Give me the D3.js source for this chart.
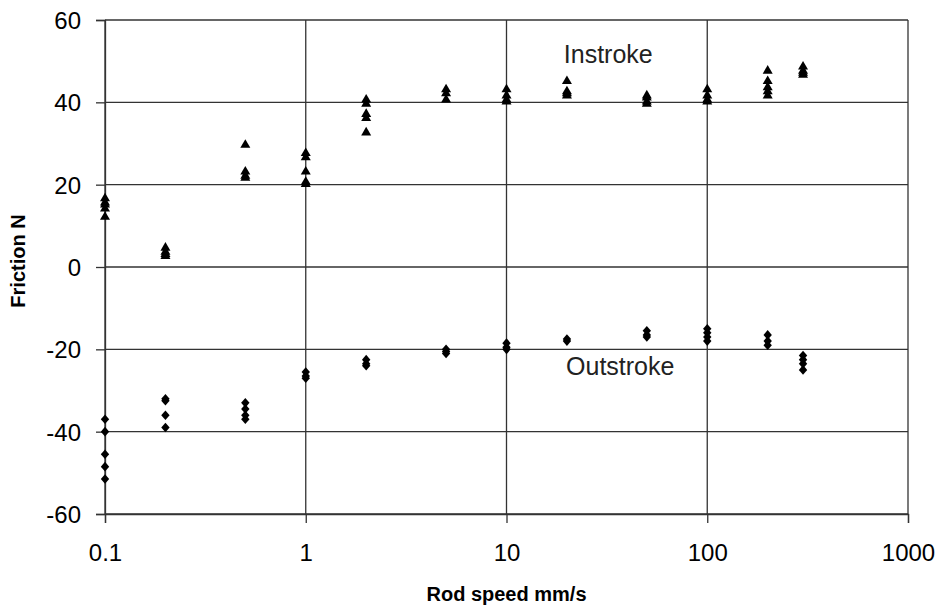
<!DOCTYPE html>
<html>
<head>
<meta charset="utf-8">
<script src="https://cdn.jsdelivr.net/npm/d3@7"></script>
<style>
  body { margin: 0; background: #fff; }
  svg { display: block; font-family: "Liberation Sans", Arial, sans-serif; }
</style>
</head>
<body>
<div id="chart"></div>
<script>
/* DATA */
var speeds = [0.1, 0.2, 0.5, 1, 2, 5, 10, 20, 50, 100, 200, 300];

var instroke = [
  [17, 16, 15.5, 14.5, 12.5],
  [5, 4, 3.5, 3],
  [30, 23.5, 22.5, 22],
  [28, 27, 23.5, 21, 20.5],
  [41, 40, 37.5, 36.5, 33],
  [43.5, 42.5, 41],
  [43.5, 42, 41, 40.5],
  [45.5, 43, 42.5, 42],
  [42, 41.5, 40.5, 40],
  [43.5, 42, 41, 40.5],
  [48, 45.5, 44, 43, 42],
  [49, 48, 47.5, 47]
];

var outstroke = [
  [-37, -40, -45.5, -48.5, -51.5],
  [-32, -32.5, -36, -39],
  [-33, -34.5, -36, -37],
  [-25.5, -26.5, -27],
  [-22.5, -23.5, -24],
  [-20, -20.5, -21],
  [-18.5, -19.5, -20],
  [-17.5, -18],
  [-15.5, -16.5, -17],
  [-15, -16, -17, -18],
  [-16.5, -18, -19],
  [-21.5, -22.5, -23.5, -25]
];

var xTicks = [0.1, 1, 10, 100, 1000];
var yTicks = [-60, -40, -20, 0, 20, 40, 60];
var xTitle = "Rod speed mm/s";
var yTitle = "Friction N";
var seriesLabels = [
  { text: "Instroke", x: 19.3, y: 49.6 },
  { text: "Outstroke", x: 19.8, y: -26.2 }
];

/* FLATTEN INTO POINTS */
function toPoints(groups) {
  var pts = [];
  for (var i = 0; i < groups.length; i++) {
    for (var n = 0; n < groups[i].length; n++) {
      pts.push({ x: speeds[i], y: groups[i][n] });
    }
  }
  return pts;
}

var width = 944, height = 606;
var margin = { top: 20, right: 36, bottom: 92, left: 105 };

var svg = d3.select('#chart').append('svg')
  .attr('width', width)
  .attr('height', height);

var x = d3.scaleLog().domain([0.1, 1000]).range([margin.left, width - margin.right]);
var y = d3.scaleLinear().domain([-60, 60]).range([height - margin.bottom, margin.top]);

/* GRID */
var grid = svg.append('g').attr('stroke', '#333').attr('stroke-width', 1.3);
grid.selectAll('line.h').data(yTicks).enter().append('line')
  .attr('x1', x(0.1)).attr('x2', x(1000))
  .attr('y1', function(d) { return y(d); })
  .attr('y2', function(d) { return y(d); });
grid.selectAll('line.v').data(xTicks).enter().append('line')
  .attr('y1', y(-60)).attr('y2', y(60))
  .attr('x1', function(d) { return x(d); })
  .attr('x2', function(d) { return x(d); });

/* AXES */
var xAxis = d3.axisBottom(x).tickValues(xTicks)
  .tickFormat(function(d) { return String(d); })
  .tickSize(9).tickPadding(21);
var yAxis = d3.axisLeft(y).tickValues(yTicks)
  .tickFormat(function(d) { return String(d); })
  .tickSize(9).tickPadding(15);

var gx = svg.append('g')
  .attr('transform', 'translate(0,' + y(-60) + ')')
  .call(xAxis);
var gy = svg.append('g')
  .attr('transform', 'translate(' + x(0.1) + ',0)')
  .call(yAxis);

[gx, gy].forEach(function(g) {
  g.select('.domain').attr('stroke', '#333').attr('stroke-width', 1.3);
  g.selectAll('.tick line').attr('stroke', '#333').attr('stroke-width', 1.3);
  g.selectAll('.tick text')
    .attr('fill', '#000')
    .style('font-size', '24px')
    .style('font-family', '"Liberation Sans", Arial, sans-serif');
});
gy.selectAll('.tick text').attr('dy', '0.35em');

/* AXIS TITLES */
svg.append('text')
  .attr('x', (x(0.1) + x(1000)) / 2)
  .attr('y', 601)
  .attr('text-anchor', 'middle')
  .style('font-size', '20px')
  .style('font-weight', 'bold')
  .text(xTitle);

svg.append('text')
  .attr('transform', 'translate(25,' + (y(0) - 6) + ') rotate(-90)')
  .attr('text-anchor', 'middle')
  .style('font-size', '20px')
  .style('font-weight', 'bold')
  .text(yTitle);

/* MARKERS */
var diamond = {
  draw: function(context, size) {
    var w = 4.2, h = 4.8;
    context.moveTo(0, -h);
    context.lineTo(w, 0);
    context.lineTo(0, h);
    context.lineTo(-w, 0);
    context.closePath();
  }
};
var triangle = {
  draw: function(context, size) {
    var w = 5, h = 4.3;
    context.moveTo(0, -h);
    context.lineTo(w, h);
    context.lineTo(-w, h);
    context.closePath();
  }
};

svg.append('g').selectAll('path')
  .data(toPoints(instroke)).enter().append('path')
  .attr('d', d3.symbol().type(triangle))
  .attr('transform', function(d) { return 'translate(' + x(d.x) + ',' + y(d.y) + ')'; })
  .attr('fill', '#000');

svg.append('g').selectAll('path')
  .data(toPoints(outstroke)).enter().append('path')
  .attr('d', d3.symbol().type(diamond))
  .attr('transform', function(d) { return 'translate(' + x(d.x) + ',' + y(d.y) + ')'; })
  .attr('fill', '#000');

/* SERIES LABELS */
svg.append('g').selectAll('text')
  .data(seriesLabels).enter().append('text')
  .attr('x', function(d) { return x(d.x); })
  .attr('y', function(d) { return y(d.y); })
  .attr('fill', '#222')
  .style('font-size', '25px')
  .text(function(d) { return d.text; });
</script>
</body>
</html>
